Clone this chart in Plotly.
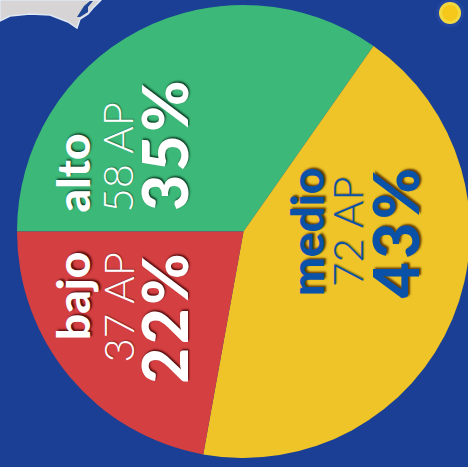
import plotly.graph_objects as go

categories = ["alto", "medio", "bajo"]
counts = [58, 72, 37]
colors = ["#3cb878", "#eec428", "#d43f41"]
percents = ["35%", "43%", "22%"]
unit = "AP"

W, H = 470, 467
BG = "#1a3f94"
BLUE = "#0a52a8"
WHITE = "#ffffff"

fig = go.Figure(go.Pie(
    labels=categories, values=counts, sort=False, direction="clockwise", rotation=270,
    marker=dict(colors=colors, line=dict(width=0)),
    textinfo="none", hoverinfo="skip", showlegend=False,
    domain=dict(x=[17 / W, 1], y=[(H - 458) / H, (H - 5) / H]),
))

def px(x): return x / W
def py(y): return 1 - y / H

def poly(pts, **kw):
    d = "M " + " L ".join(f"{px(x)} {py(y)}" for x, y in pts) + " Z"
    return dict(type="path", xref="paper", yref="paper", layer="below", path=d, **kw)

def circle(cx, cy, r, **kw):
    return dict(type="circle", xref="paper", yref="paper", layer="below",
                x0=px(cx - r), x1=px(cx + r), y0=py(cy + r), y1=py(cy - r), **kw)

shapes = [
    # land in the background image
    poly([(0, 0), (0, 21), (10, 16), (30, 14), (50, 15), (68, 22), (77, 28),
          (80, 19), (88, 14), (93, 8), (101, 0)],
         fillcolor="#d6d4d4", line=dict(color="#dfe8f5", width=1.5)),
    poly([(77, 17), (84, 6), (90, 1), (93, 1), (88, 7), (88, 12), (80, 17)],
         fillcolor="#1f4696", line=dict(width=0)),
    # sun in the background image
    circle(450, 13, 14, fillcolor="#2347a0", line=dict(width=0)),
    circle(450, 13, 11, fillcolor="#f3d940", line=dict(width=0)),
    circle(450, 13, 8, fillcolor="#f7c81c", line=dict(width=0)),
]

fam = "Lato"
labels = [
    # category, name x, AP x, percent x, name y, AP y, percent y, colour, shadow, yanchor
    (0, 72, 117, 163, 215, 215, 208, WHITE, "rgba(0,40,20,.85)", "bottom"),
    (1, 306, 347, 395, 232, 232, 232, BLUE, "rgba(90,50,0,.9)", "middle"),
    (2, 72, 117, 163, 250, 250, 254, WHITE, "rgba(60,0,0,.85)", "top"),
]
ann = []
for i, x1, x2, x3, y1, y2, y3, col, sh, ya in labels:
    rows = [
        (categories[i], x1, y1, 46, 900, f"1.5px 1.5px 2px {sh}"),
        (f"{counts[i]} {unit}", x2, y2, 42, 300, "1px 1px 1px rgba(0,0,0,.3)"),
        (percents[i], x3, y3, 62, 900, f"1.5px 1.5px 2px {sh}"),
    ]
    for txt, xx, yy, size, weight, shadow in rows:
        ann.append(dict(text=txt, xref="paper", yref="paper", x=px(xx), y=py(yy),
                        xanchor="center", yanchor=ya, showarrow=False, textangle=-90,
                        font=dict(family=fam, size=size, color=col, weight=weight, shadow=shadow)))

fig.update_layout(width=W, height=H, margin=dict(l=0, r=0, t=0, b=0), paper_bgcolor=BG,
                  plot_bgcolor=BG, shapes=shapes, annotations=ann)
post = """document.body.style.margin='0';document.body.style.overflow='hidden';
document.querySelectorAll('.annotation-text').forEach(function(t){
  if (t.textContent.endsWith('%')) { t.style.letterSpacing='3.5px'; }
});"""
fig.write_html("out.html", config=dict(displayModeBar=False), post_script=post)
